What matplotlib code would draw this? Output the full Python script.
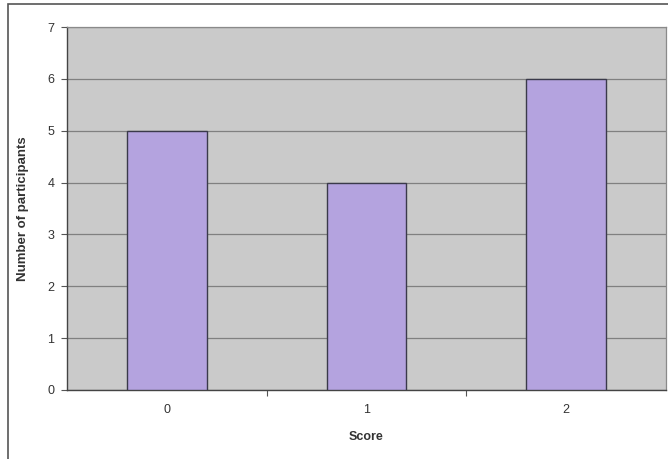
import matplotlib
matplotlib.use("Agg")
import matplotlib.pyplot as plt
from matplotlib.patches import Rectangle

scores = ["0", "1", "2"]
participants = [5, 4, 6]
y_ticks = [0, 1, 2, 3, 4, 5, 6, 7]

plt.rcParams["font.family"] = ["Liberation Sans", "DejaVu Sans"]

fig = plt.figure(figsize=(6.68, 4.59), dpi=100)
fig.patch.set_facecolor("white")

# outer chart-area border (runs off the right and bottom edges)
fig.patches.append(Rectangle((8 / 668, -0.05), 1.0, 1.05 - 4 / 459,
                             transform=fig.transFigure, fill=False,
                             edgecolor="#555555", linewidth=1.2))

ax = fig.add_axes([67 / 668, 1 - 390 / 459, 599 / 668, 363 / 459])
ax.set_facecolor("#cacaca")

x = list(range(len(scores)))
ax.bar(x, participants, width=0.4, color="#b4a3df", edgecolor="#3a3a4a",
       linewidth=1.0, zorder=3)

ax.set_xlim(-0.5, len(scores) - 0.5)
ax.set_ylim(0, 7)
ax.set_yticks(y_ticks)
ax.yaxis.grid(True, color="#808080", linewidth=0.9, zorder=1)
ax.set_axisbelow(True)

# ticks at category boundaries, labels at centres
ax.set_xticks([i + 0.5 for i in x[:-1]])
ax.set_xticklabels([])
ax.set_xticks(x, minor=True)
ax.set_xticklabels(scores, minor=True)
ax.tick_params(axis="x", which="minor", length=0, pad=10)
ax.tick_params(axis="x", which="major", direction="out", length=4,
               color="#555555")
ax.tick_params(axis="y", direction="out", length=4, color="#555555",
               pad=5)
ax.tick_params(labelsize=9, labelcolor="#333333")
for lbl in ax.get_xticklabels(minor=True):
    lbl.set_fontsize(9)
    lbl.set_color("#333333")

for side in ["left", "bottom"]:
    ax.spines[side].set_color("#444444")
    ax.spines[side].set_linewidth(1.0)
for side in ["top", "right"]:
    ax.spines[side].set_color("#8a8a8a")
    ax.spines[side].set_linewidth(0.9)

ax.set_xlabel("Score", fontsize=9, fontweight="bold", color="#333333",
              labelpad=11)
ax.set_ylabel("Number of participants", fontsize=9.5, fontweight="bold",
              color="#333333", labelpad=13)

fig.savefig("out.png", dpi=100)
